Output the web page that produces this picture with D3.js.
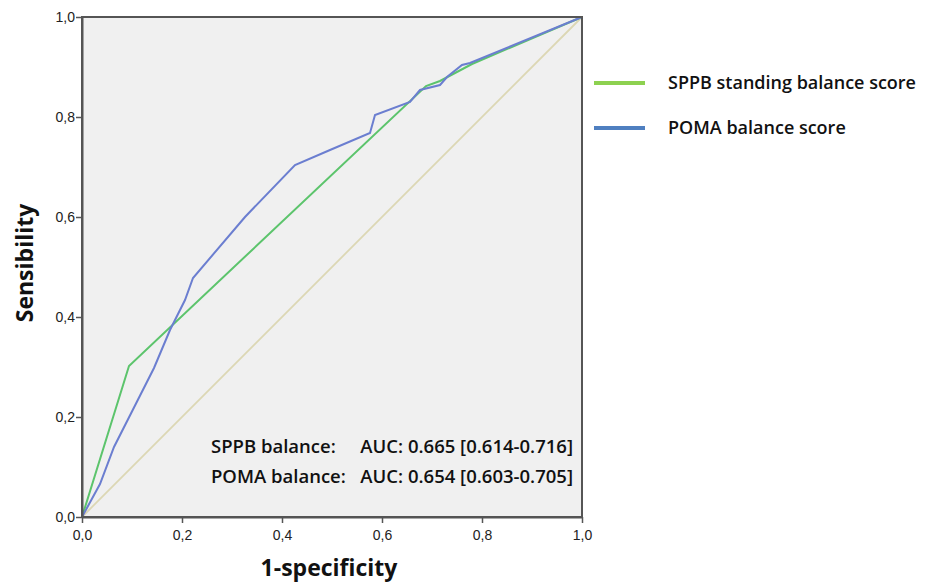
<!DOCTYPE html>
<html><head><meta charset="utf-8">
<script src="https://cdn.jsdelivr.net/npm/d3@7"></script>
<style>body{margin:0;background:#fff;} svg{display:block;}</style>
</head><body>
<svg id="chart" width="927" height="583"></svg>
<script>
const tickValues = [0, 0.2, 0.4, 0.6, 0.8, 1.0];
const tickLabels = ["0,0", "0,2", "0,4", "0,6", "0,8", "1,0"];
const sppbX = [0, 0.094, 0.688, 0.716, 0.78, 1];
const sppbY = [0, 0.302, 0.862, 0.872, 0.906, 1];
const pomaX = [0, 0.036, 0.064, 0.144, 0.176, 0.206, 0.222, 0.326, 0.426, 0.496, 0.576, 0.586, 0.656, 0.676, 0.716, 0.73, 0.76, 0.776, 1];
const pomaY = [0, 0.066, 0.14, 0.298, 0.374, 0.434, 0.478, 0.6, 0.704, 0.734, 0.768, 0.804, 0.83, 0.854, 0.864, 0.88, 0.904, 0.908, 1];
const refX = [0, 1];
const refY = [0, 1];
const seriesNames = ["SPPB standing balance score", "POMA balance score"];
const aucLabels = ["SPPB balance:", "POMA balance:"];
const aucValues = ["AUC: 0.665 [0.614-0.716]", "AUC: 0.654 [0.603-0.705]"];

const svg = d3.select("#chart");
const x = d3.scaleLinear().domain([0, 1]).range([82, 582]);
const y = d3.scaleLinear().domain([0, 1]).range([517, 17]);

svg.append("rect").attr("x", x(0)).attr("y", y(1)).attr("width", x(1) - x(0)).attr("height", y(0) - y(1)).attr("fill", "#f0f0f0");

const line = d3.line().x(d => x(d[0])).y(d => y(d[1]));
const zip = (a, b) => a.map((v, i) => [v, b[i]]);

svg.append("path").attr("d", line(zip(refX, refY))).attr("fill", "none").attr("stroke", "#dcd7b4").attr("stroke-width", 1.8);
svg.append("path").attr("d", line(zip(sppbX, sppbY))).attr("fill", "none").attr("stroke", "#5cc46c").attr("stroke-width", 2);
svg.append("path").attr("d", line(zip(pomaX, pomaY))).attr("fill", "none").attr("stroke", "#6b7ed0").attr("stroke-width", 2);

svg.append("rect").attr("x", x(0)).attr("y", y(1)).attr("width", x(1) - x(0)).attr("height", y(0) - y(1)).attr("fill", "none").attr("stroke", "#555").attr("stroke-width", 2);

const fmt = d => tickLabels[tickValues.indexOf(d)];
const xAxis = svg.append("g").attr("transform", `translate(0,${y(0)})`)
  .call(d3.axisBottom(x).tickValues(tickValues).tickFormat(fmt).tickSize(6).tickSizeOuter(0));
const yAxis = svg.append("g").attr("transform", `translate(${x(0)},0)`)
  .call(d3.axisLeft(y).tickValues(tickValues).tickFormat(fmt).tickSize(6).tickSizeOuter(0));
[xAxis, yAxis].forEach(g => {
  g.select(".domain").attr("stroke", "#555").attr("stroke-width", 2);
  g.selectAll(".tick line").attr("stroke", "#555").attr("stroke-width", 1.5);
  g.selectAll(".tick text").attr("font-family", "Liberation Sans, Arial, sans-serif").attr("font-size", 14).attr("fill", "#222");
});
xAxis.selectAll(".tick text").attr("y", 10).attr("dy", "0.9em");
yAxis.selectAll(".tick text").attr("x", -7);

svg.append("text").attr("x", 329).attr("y", 576).attr("text-anchor", "middle")
  .attr("font-family", "Open Sans, sans-serif").attr("font-weight", 700).attr("font-size", 23).attr("fill", "#111").text("1-specificity");
svg.append("text").attr("transform", "translate(33,263) rotate(-90)").attr("text-anchor", "middle")
  .attr("font-family", "Open Sans, sans-serif").attr("font-weight", 700).attr("font-size", 23).attr("fill", "#111").text("Sensibility");

const legColors = ["#8dd150", "#4f7fc0"];
const legY = [83, 128];
seriesNames.forEach((n, i) => {
  svg.append("line").attr("x1", 594).attr("x2", 645).attr("y1", legY[i]).attr("y2", legY[i]).attr("stroke", legColors[i]).attr("stroke-width", 4);
  svg.append("text").attr("x", 668).attr("y", legY[i]).attr("dy", "0.35em")
    .attr("font-family", "Open Sans, sans-serif").attr("font-weight", 600).attr("font-size", 18).attr("fill", "#111").text(n);
});

const aucY = [447, 477];
aucLabels.forEach((l, i) => {
  svg.append("text").attr("x", 211).attr("y", aucY[i]).attr("dy", "0.35em")
    .attr("font-family", "Open Sans, sans-serif").attr("font-weight", 600).attr("font-size", 18.5).attr("fill", "#111").text(l);
  svg.append("text").attr("x", 573).attr("y", aucY[i]).attr("dy", "0.35em").attr("text-anchor", "end")
    .attr("font-family", "Open Sans, sans-serif").attr("font-weight", 600).attr("font-size", 18.5).attr("fill", "#111").text(aucValues[i]);
});
</script>
</body></html>
